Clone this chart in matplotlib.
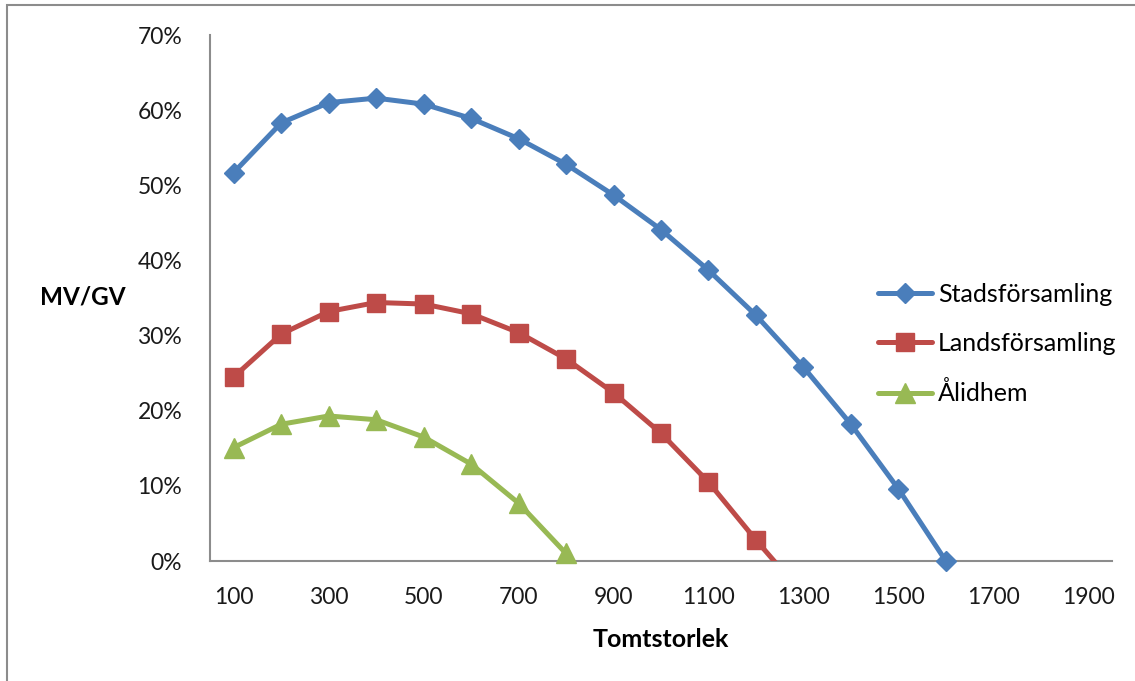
import matplotlib
matplotlib.use("Agg")
import matplotlib.pyplot as plt
from matplotlib.patches import Rectangle
from matplotlib.ticker import FuncFormatter, FixedLocator

plt.rcParams['font.family'] = ['Lato', 'DejaVu Sans']

# Lot sizes (Tomtstorlek) and MV/GV share per parish type
tomt_stad = [100, 200, 300, 400, 500, 600, 700, 800, 900, 1000, 1100, 1200, 1300, 1400, 1500, 1600]
stad = [0.517, 0.583, 0.610, 0.616, 0.608, 0.589, 0.562, 0.528, 0.487, 0.441, 0.387, 0.327, 0.258, 0.182, 0.096, 0.000]

tomt_land = [100, 200, 300, 400, 500, 600, 700, 800, 900, 1000, 1100, 1200, 1300]
land = [0.245, 0.302, 0.332, 0.344, 0.342, 0.329, 0.304, 0.269, 0.224, 0.170, 0.105, 0.028, -0.045]

tomt_alidhem = [100, 200, 300, 400, 500, 600, 700, 800]
alidhem = [0.151, 0.182, 0.193, 0.188, 0.165, 0.129, 0.077, 0.010]

x_ticks = [100, 300, 500, 700, 900, 1100, 1300, 1500, 1700, 1900]
y_ticks = [0.0, 0.1, 0.2, 0.3, 0.4, 0.5, 0.6, 0.7]

W, H = 1135, 681
fig = plt.figure(figsize=(W / 100, H / 100), dpi=100)
fig.patch.set_facecolor('white')
fig.patches.append(Rectangle((7 / W, -0.1), 1.2, 1.1 - 5 / H, transform=fig.transFigure,
                             fill=False, edgecolor='#8c8c8c', linewidth=1.5))

ax = fig.add_axes([210 / W, 1 - 561 / H, (1112 - 210) / W, (561 - 35) / H])

common = dict(lw=3.6, solid_joinstyle='round', solid_capstyle='round')
ax.plot(tomt_stad, stad, color='#4A7EBB', marker='D', ms=10.5,
        label='Stadsförsamling', clip_on=False, zorder=3, **common)
ax.plot(tomt_land, land, color='#BE4B48', marker='s', ms=12.5,
        label='Landsförsamling', zorder=3, **common)
ax.plot(tomt_alidhem, alidhem, color='#98B954', marker='^', ms=14,
        label='Ålidhem', clip_on=False, zorder=3, **common)

ax.set_xlim(50, 1950)
ax.set_ylim(0, 0.7)
ax.xaxis.set_major_locator(FixedLocator(x_ticks))
ax.yaxis.set_major_locator(FixedLocator(y_ticks))
ax.yaxis.set_major_formatter(FuncFormatter(lambda v, p: f"{round(v * 100)}%"))
ax.tick_params(axis='both', length=0, labelsize=16.5, colors='#1a1a1a')
ax.tick_params(axis='y', pad=20)
ax.tick_params(axis='x', pad=19)

for side in ('top', 'right'):
    ax.spines[side].set_visible(False)
for side in ('left', 'bottom'):
    ax.spines[side].set_color('#8c8c8c')
    ax.spines[side].set_linewidth(1.5)
    ax.spines[side].set_zorder(0)

ax.set_xlabel('Tomtstorlek', fontsize=18, fontweight='bold', labelpad=14)
ax.text(40 / W, 1 - 297 / H, 'MV/GV', transform=fig.transFigure, fontsize=17.5,
        fontweight='bold', ha='left', va='center')

leg = ax.legend(loc='center left', bbox_to_anchor=((878 - 210) / 902, (561 - 344) / 526),
                frameon=False, fontsize=18, handlelength=2.15, handletextpad=0.25,
                labelspacing=1.05, borderaxespad=0, borderpad=0)
for h in leg.legend_handles:
    h.set_clip_on(False)

fig.savefig('out.png', dpi=100, facecolor='white')
